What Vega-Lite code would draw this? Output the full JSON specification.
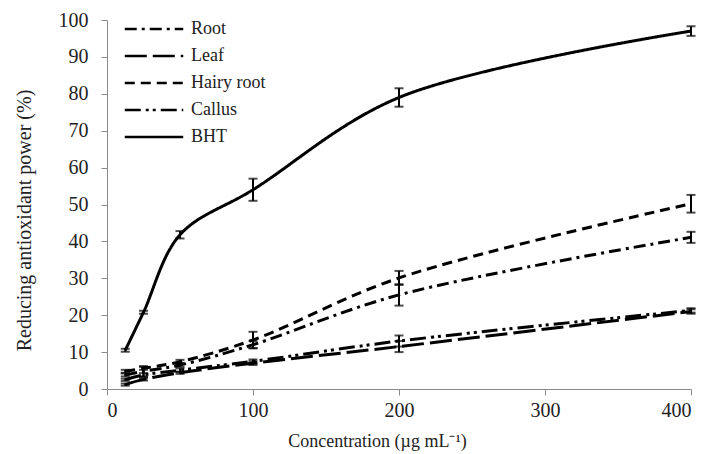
{
  "$schema": "https://vega.github.io/schema/vega-lite/v6.json",
  "autosize": {"type": "none"},
  "width": 584,
  "height": 369,
  "padding": {"left": 107, "top": 20, "right": 16, "bottom": 65},
  "background": "white",
  "data": {
    "values": [
      {"conc": 12.5, "series": "BHT", "value": 10.5, "err": 0.4},
      {"conc": 25, "series": "BHT", "value": 20.8, "err": 0.4},
      {"conc": 50, "series": "BHT", "value": 41.8, "err": 1.0},
      {"conc": 100, "series": "BHT", "value": 54.0, "err": 3.0},
      {"conc": 200, "series": "BHT", "value": 79.0, "err": 2.5},
      {"conc": 400, "series": "BHT", "value": 97.0, "err": 1.3},
      {"conc": 12.5, "series": "Hairy root", "value": 4.8, "err": 0.4},
      {"conc": 25, "series": "Hairy root", "value": 5.6, "err": 0.4},
      {"conc": 50, "series": "Hairy root", "value": 7.4, "err": 0.5},
      {"conc": 100, "series": "Hairy root", "value": 13.3, "err": 2.2},
      {"conc": 200, "series": "Hairy root", "value": 30.1, "err": 1.9},
      {"conc": 400, "series": "Hairy root", "value": 50.2, "err": 2.4},
      {"conc": 12.5, "series": "Root", "value": 3.8, "err": 0.4},
      {"conc": 25, "series": "Root", "value": 4.8, "err": 1.4},
      {"conc": 50, "series": "Root", "value": 6.5, "err": 0.5},
      {"conc": 100, "series": "Root", "value": 12.0, "err": 1.0},
      {"conc": 200, "series": "Root", "value": 25.5, "err": 2.9},
      {"conc": 400, "series": "Root", "value": 41.1, "err": 1.5},
      {"conc": 12.5, "series": "Callus", "value": 2.5, "err": 0.3},
      {"conc": 25, "series": "Callus", "value": 3.8, "err": 0.5},
      {"conc": 50, "series": "Callus", "value": 5.1, "err": 0.5},
      {"conc": 100, "series": "Callus", "value": 7.5, "err": 0.5},
      {"conc": 200, "series": "Callus", "value": 13.0, "err": 1.5},
      {"conc": 400, "series": "Callus", "value": 21.3, "err": 0.6},
      {"conc": 12.5, "series": "Leaf", "value": 1.2, "err": 0.3},
      {"conc": 25, "series": "Leaf", "value": 2.6, "err": 0.3},
      {"conc": 50, "series": "Leaf", "value": 4.4, "err": 0.3},
      {"conc": 100, "series": "Leaf", "value": 7.0, "err": 0.5},
      {"conc": 200, "series": "Leaf", "value": 11.5, "err": 1.5},
      {"conc": 400, "series": "Leaf", "value": 21.0, "err": 0.6}
    ]
  },
  "encoding": {
    "x": {
      "field": "conc", "type": "quantitative",
      "scale": {"domain": [0, 400], "nice": false, "zero": true},
      "axis": {
        "values": [0, 100, 200, 300, 400],
        "title": "Concentration (µg mL⁻¹)",
        "titleX": 270, "titleAlign": "center",
        "titlePadding": 12, "titleFontSize": 18,
        "labelPadding": 5, "tickSize": 6
      }
    },
    "y": {
      "field": "value", "type": "quantitative",
      "scale": {"domain": [0, 100], "nice": false},
      "axis": {
        "values": [0, 10, 20, 30, 40, 50, 60, 70, 80, 90, 100],
        "title": "Reducing antioxidant power (%)",
        "titleY": 200, "titlePadding": 24, "titleFontSize": 20,
        "labelPadding": 13, "tickSize": 6
      }
    }
  },
  "layer": [
    {
      "mark": {"type": "line", "interpolate": "catmull-rom", "color": "black", "strokeWidth": 3},
      "encoding": {
        "strokeDash": {
          "field": "series", "type": "nominal",
          "scale": {
            "domain": ["Root", "Leaf", "Hairy root", "Callus", "BHT"],
            "range": [[12, 5, 3, 5], [22, 6], [10, 6], [16, 5, 3, 4, 3, 5], [1, 0]]
          },
          "legend": {
            "title": null, "orient": "none", "legendX": 36, "legendY": -2,
            "symbolType": "M-3,0H3", "symbolSize": 380, "symbolStrokeWidth": 2.5,
            "symbolStrokeColor": "black",
            "labelFont": "Liberation Serif", "labelFontSize": 18, "labelColor": "#222",
            "labelOffset": 26, "rowPadding": 7, "padding": 0
          }
        }
      }
    },
    {
      "mark": {"type": "errorbar", "color": "black", "thickness": 2, "ticks": {"size": 9, "thickness": 2, "color": "black"}},
      "encoding": {
        "yError": {"field": "err"},
        "detail": {"field": "series", "type": "nominal"}
      }
    }
  ],
  "config": {
    "view": {"stroke": null},
    "axis": {
      "grid": false,
      "domainColor": "#8a8a8a",
      "tickColor": "#8a8a8a",
      "labelFont": "Liberation Serif",
      "labelFontSize": 20,
      "labelColor": "#222",
      "titleFont": "Liberation Serif",
      "titleFontWeight": "normal",
      "titleColor": "#222"
    }
  }
}
